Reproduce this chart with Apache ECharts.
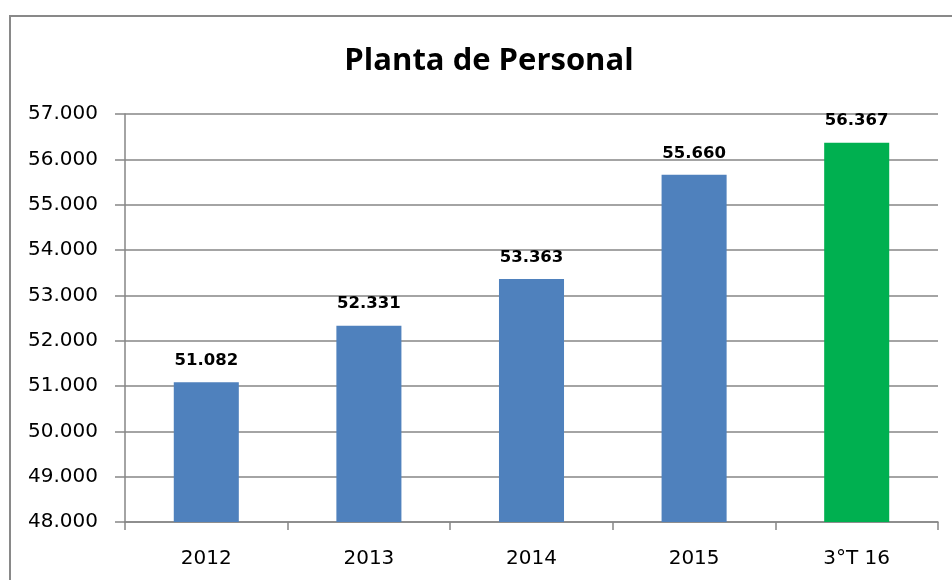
<!DOCTYPE html>
<html>
<head>
<meta charset="utf-8">
<script src="https://cdn.jsdelivr.net/npm/echarts@6/dist/echarts.min.js"></script>
<style>
  html, body { margin: 0; padding: 0; background: #fff; }
  #chart { width: 952px; height: 580px; }
</style>
</head>
<body>
<div id="chart"></div>
<script>
// datos de la planta de personal
var categorias = ['2012', '2013', '2014', '2015', '3°T 16'];
var personal = [51082, 52331, 53363, 55660, 56367];
var colores = ['#4F81BD', '#4F81BD', '#4F81BD', '#4F81BD', '#00B050'];
var ejeMin = 48000, ejeMax = 57000, ejePaso = 1000;

// formato con punto de miles
function miles(v) {
    return String(v).replace(/\B(?=(\d{3})+(?!\d))/g, '.');
}

var myChart = echarts.init(document.getElementById('chart'));
myChart.setOption({
    animation: false,
    title: {
        text: 'Planta de Personal',
        left: 484, top: 41, textAlign: 'center',
        textStyle: { fontFamily: 'Open Sans', fontWeight: 'bold', fontSize: 31, color: '#000' }
    },
    graphic: [{
        type: 'rect',
        shape: { x: 10, y: 16, width: 1000, height: 700 },
        style: { fill: 'none', stroke: '#898989', lineWidth: 2 }
    }],
    grid: { left: 125, right: 14, top: 114, bottom: 58 },
    xAxis: {
        type: 'category',
        data: categorias,
        axisLine: { lineStyle: { color: '#868686', width: 1.5 } },
        axisTick: { show: true, length: 8, lineStyle: { color: '#868686', width: 1.5 } },
        axisLabel: { margin: 27, fontFamily: 'DejaVu Sans', fontSize: 20, color: '#000' }
    },
    yAxis: {
        type: 'value',
        min: ejeMin, max: ejeMax, interval: ejePaso,
        axisLine: { show: true, lineStyle: { color: '#868686', width: 1.5 } },
        axisTick: { show: true, length: 10, lineStyle: { color: '#868686', width: 1.5 } },
        splitLine: { lineStyle: { color: '#868686', width: 1.5 } },
        axisLabel: { margin: 27, fontFamily: 'DejaVu Sans', fontSize: 20, color: '#000', formatter: miles }
    },
    series: [{
        type: 'bar',
        barWidth: '40%',
        data: personal.map(function (v, i) {
            return { value: v, itemStyle: { color: colores[i] } };
        }),
        label: {
            show: true, position: 'top', distance: 13,
            fontFamily: 'DejaVu Sans', fontWeight: 'bold', fontSize: 16.5, color: '#000',
            formatter: function (p) { return miles(p.value); }
        }
    }]
});
</script>
</body>
</html>
